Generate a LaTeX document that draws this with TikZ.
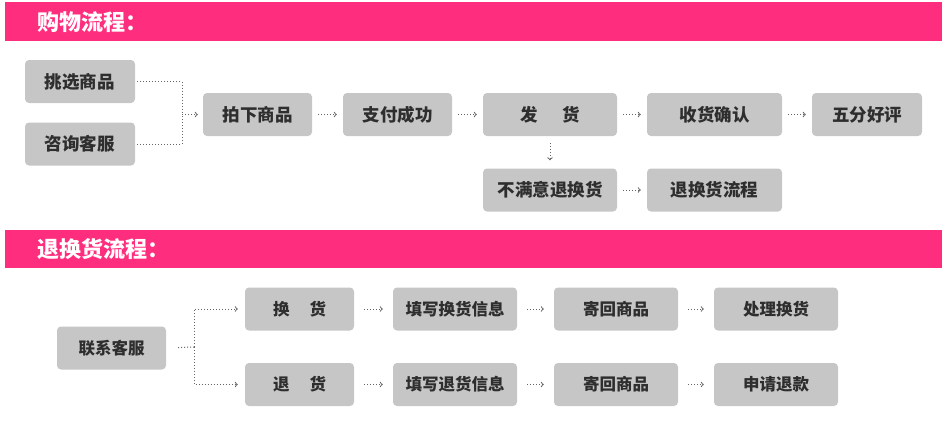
\documentclass[tikz,border=0pt]{standalone}
\usepackage{fontspec}
\newfontfamily\cjk{Noto Sans CJK SC}
\usepackage{xcolor}
\usetikzlibrary{math}
\definecolor{bannerpink}{HTML}{FF2D7E}
\definecolor{boxgray}{HTML}{C6C6C6}
\definecolor{textdark}{HTML}{2E2E2E}
\definecolor{dotgray}{HTML}{666666}

\begin{document}
\begin{tikzpicture}[x=1pt,y=-1pt,
  title/.style={anchor=west, text=white, inner sep=0pt, font=\cjk\bfseries\fontsize{22}{22}\selectfont},
  stepbox/.style={fill=boxgray, rounded corners=4pt, minimum height=43pt, inner sep=0pt, text=textdark, font=\cjk\bfseries\fontsize{17.5}{17.5}\selectfont},
  smallbox/.style={stepbox, font=\cjk\bfseries\fontsize{16.5}{16.5}\selectfont},
  link/.style={dotted, line width=1pt, draw=dotgray},
  flow/.style={link, -to, shorten <=6pt, shorten >=6pt},
  flowwide/.style={link, -to, shorten <=10pt, shorten >=10pt},
]
\tikzmath{
\ya=114.5;
\yb=190;
\yc=309;
\yd=384.5;
}
\useasboundingbox (0,0) rectangle (946,429);

 %banners:
 \fill[bannerpink] (5,2) rectangle (942,41);
 \node[title] (titleshop) at (37,22) {购物流程：};
 \fill[bannerpink] (5,230) rectangle (942,268);
 \node[title] (titlereturn) at (37,249) {退换货流程：};

 %shopping steps
 \node[stepbox, minimum width=110pt] (pick) at (80,81.5) {挑选商品};
 \node[stepbox, minimum width=110pt] (ask) at (80,144) {咨询客服};
 \node[stepbox, minimum width=109pt] (order) at (257.5,\ya) {拍下商品};
 \node[stepbox, minimum width=109pt] (pay) at (397.5,\ya) {支付成功};
 \node[stepbox, minimum width=134pt] (ship) at (550,\ya) {发\hspace{25pt}货};
 \node[stepbox, minimum width=135pt] (recv) at (714.5,\ya) {收货确认};
 \node[stepbox, minimum width=110pt] (rate) at (867,\ya) {五分好评};
 \node[stepbox, minimum width=134pt] (unsat) at (550,\yb) {不满意退换货};
 \node[stepbox, minimum width=135pt] (retflow) at (714.5,\yb) {退换货流程};

 %shopping links
 \coordinate (J1) at (182,\ya);
 \draw[link, shorten <=2pt] (pick.east) -| (J1);
 \draw[link, shorten <=2pt] (ask.east) -| (J1);
 \draw[link, -to, shorten >=5pt] (J1) -- (order.west);
 \draw[flow] (order) -- (pay);
 \draw[flow] (pay) -- (ship);
 \draw[flow] (ship) -- (recv);
 \draw[flow] (recv) -- (rate);
 \draw[flow, shorten <=7pt, shorten >=8pt] (ship) -- (unsat);
 \draw[flow] (unsat) -- (retflow);

 %return steps
 \node[smallbox, minimum width=109pt] (contact) at (111.5,348) {联系客服};
 \node[smallbox, minimum width=109pt] (exch) at (299.5,\yc) {换\hspace{20pt}货};
 \node[smallbox, minimum width=109pt] (refund) at (299.5,\yd) {退\hspace{20pt}货};
 \node[smallbox, minimum width=124pt] (fillx) at (455,\yc) {填写换货信息};
 \node[smallbox, minimum width=124pt] (sendx) at (616,\yc) {寄回商品};
 \node[smallbox, minimum width=124pt] (handle) at (776,\yc) {处理换货};
 \node[smallbox, minimum width=124pt] (fillr) at (455,\yd) {填写退货信息};
 \node[smallbox, minimum width=124pt] (sendr) at (616,\yd) {寄回商品};
 \node[smallbox, minimum width=124pt] (apply) at (776,\yd) {申请退款};

 %return links
 \coordinate (J2) at (194,347);
 \draw[link, shorten <=12pt] (contact.east) -- (J2);
 \draw[link, -to, shorten >=7pt] (J2) |- (exch.west);
 \draw[link, -to, shorten >=7pt] (J2) |- (refund.west);
 \draw[flowwide] (exch) -- (fillx);
 \draw[flowwide] (fillx) -- (sendx);
 \draw[flowwide] (sendx) -- (handle);
 \draw[flowwide] (refund) -- (fillr);
 \draw[flowwide] (fillr) -- (sendr);
 \draw[flowwide] (sendr) -- (apply);
\end{tikzpicture}
\end{document}
